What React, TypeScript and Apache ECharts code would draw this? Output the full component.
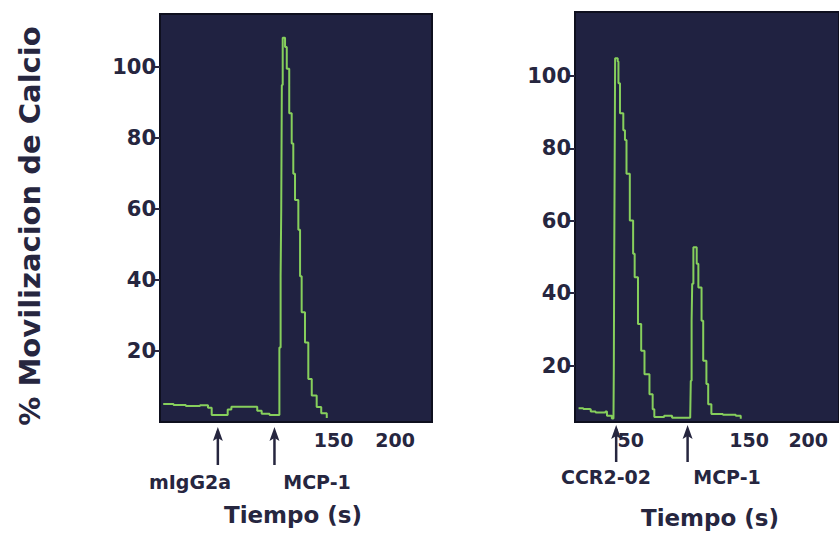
import React, { useEffect, useRef } from "react";
import * as echarts from "echarts";

// Left panel: mIgG2a then MCP-1 (time s, % calcium mobilisation)
const leftTime = [11.6, 20, 30, 41.5, 48, 51, 55, 60.4, 64, 67, 75, 84.8, 88, 91.6, 98, 105, 106, 107, 107.5, 108, 108.7, 110.6, 112, 114, 116, 117.3, 118.7, 121.4, 122.8, 124.1, 126.8, 129.5, 132.3, 136.3, 140, 144.5];
const leftValue = [5.1, 4.8, 4.5, 4.7, 4.0, 2.0, 2.0, 2.0, 3.5, 4.3, 4.3, 4.3, 3.2, 2.3, 2.0, 2.0, 21, 41, 60, 95, 108.3, 105.7, 99.6, 87, 78.5, 70, 62.6, 54.2, 41.1, 30.9, 22.4, 12.1, 7.5, 4.2, 2.5, 1.1];

// Right panel: CCR2-02 then MCP-1
const rightTime = [6, 10, 14.9, 16.3, 20.4, 28.7, 30, 34.1, 35.5, 35.8, 36.1, 36.5, 36.9, 39.1, 39.7, 41, 43.8, 45.2, 46.5, 49.3, 52.1, 53.4, 56.2, 58.9, 61.7, 65.9, 68.6, 70, 78.3, 85, 98.9, 100.3, 100.8, 101.5, 102, 103, 104.4, 105.8, 107.2, 109.9, 111.3, 114, 115.5, 118.2, 127.9, 138.8, 143];
const rightValue = [8.2, 8.0, 7.9, 7.3, 7.0, 7.3, 6.1, 5.4, 5.4, 19.5, 48, 75, 104.9, 104, 98, 89.7, 85, 82.3, 73, 60.1, 50.9, 44.4, 31.5, 24.1, 17.6, 12.1, 7.9, 5.8, 6.1, 5.6, 5.6, 5.6, 15.8, 32.4, 42.6, 52.7, 52.7, 48.1, 41.6, 32.4, 21.3, 14.9, 9.3, 6.6, 6.4, 6.1, 5.3];

const yTicks = [20, 40, 60, 80, 100];
const leftXTicks = [150, 200];
const rightXTicks = [50, 150, 200];

const yTitle = "% Movilizacion de Calcio";
const xTitle = "Tiempo (s)";
const leftMarkers = [
  { t: 56, label: "mIgG2a" },
  { t: 102, label: "MCP-1" },
];
const rightMarkers = [
  { t: 37, label: "CCR2-02" },
  { t: 96, label: "MCP-1" },
];

const FONT = "DejaVu Sans";
const INK = "#26263f";
const PANEL = "#202241";
const TRACE = "#86cf5c";

export default function App() {
  const ref = useRef<HTMLDivElement>(null);
  useEffect(() => {
    document.body.style.margin = "0";
    if (!ref.current) return;
    const chart = echarts.init(ref.current, null, { renderer: "svg" });

    const L = { left: 160, top: 14, width: 272, height: 408, xmin: 9, xmax: 230, ymin: 0, ymax: 115 };
    const R = { left: 575, top: 12, width: 270, height: 410, xmin: 3, xmax: 226, ymin: 4.4, ymax: 117.7 };

    const xAxisCommon = (p: any, ticks: number[], gi: number) => ({
      type: "value",
      gridIndex: gi,
      min: p.xmin,
      max: p.xmax,
      splitLine: { show: false },
      axisLine: { show: false },
      axisTick: { show: false },
      axisLabel: {
        customValues: ticks,
        color: INK,
        fontFamily: FONT,
        fontWeight: "bold",
        fontSize: 19,
        margin: 8,
      },
    });
    const yAxisCommon = (p: any, gi: number) => ({
      type: "value",
      gridIndex: gi,
      min: p.ymin,
      max: p.ymax,
      splitLine: { show: false },
      axisLine: { show: false },
      axisTick: { show: true, customValues: yTicks, length: 6, inside: false, lineStyle: { color: INK, width: 2 } },
      axisLabel: {
        customValues: yTicks,
        color: INK,
        fontFamily: FONT,
        fontWeight: "bold",
        fontSize: 21,
        margin: 4,
      },
    });

    const xPix = (p: any, t: number) => p.left + ((t - p.xmin) / (p.xmax - p.xmin)) * p.width;

    const arrow = (x: number, y1: number, y2: number) => [
      { type: "line", shape: { x1: x, y1: y2, x2: x, y2: y1 + 4 }, style: { stroke: INK, lineWidth: 2.5 } },
      { type: "polygon", shape: { points: [[x, y1], [x - 5, y1 + 14], [x, y1 + 11], [x + 5, y1 + 14]] }, style: { fill: INK } },
    ];

    const graphics: any[] = [
      {
        type: "text",
        x: 30,
        y: 226,
        rotation: Math.PI / 2,
        style: { text: yTitle, fill: INK, font: `bold 29px "${FONT}"`, align: "center", verticalAlign: "middle" },
      },
      {
        type: "text",
        x: 293,
        y: 515,
        style: { text: xTitle, fill: INK, font: `bold 23px "${FONT}"`, align: "center", verticalAlign: "middle" },
      },
      {
        type: "text",
        x: 710,
        y: 518,
        style: { text: xTitle, fill: INK, font: `bold 23px "${FONT}"`, align: "center", verticalAlign: "middle" },
      },
    ];
    const leftLabelX = [190, 317];
    leftMarkers.forEach((m, i) => {
      const x = xPix(L, m.t);
      graphics.push(...arrow(x, 427, 465));
      graphics.push({
        type: "text",
        x: leftLabelX[i],
        y: 482,
        style: { text: m.label, fill: INK, font: `bold 19px "${FONT}"`, align: "center", verticalAlign: "middle" },
      });
    });
    const rightLabelX = [606, 727];
    rightMarkers.forEach((m, i) => {
      const x = xPix(R, m.t);
      graphics.push(...arrow(x, 425, 462));
      graphics.push({
        type: "text",
        x: rightLabelX[i],
        y: 477,
        style: { text: m.label, fill: INK, font: `bold 19px "${FONT}"`, align: "center", verticalAlign: "middle" },
      });
    });

    chart.setOption({
      animation: false,
      backgroundColor: "#ffffff",
      grid: [
        { left: L.left, top: L.top, width: L.width, height: L.height, show: true, backgroundColor: PANEL, borderColor: "#0e0f1e", borderWidth: 2 },
        { left: R.left, top: R.top, width: R.width, height: R.height, show: true, backgroundColor: PANEL, borderColor: "#0e0f1e", borderWidth: 2 },
      ],
      xAxis: [xAxisCommon(L, leftXTicks, 0), xAxisCommon(R, rightXTicks, 1)],
      yAxis: [yAxisCommon(L, 0), yAxisCommon(R, 1)],
      series: [
        {
          type: "line",
          xAxisIndex: 0,
          yAxisIndex: 0,
          data: leftTime.map((t, i) => [t, leftValue[i]]),
          showSymbol: false,
          lineStyle: { color: TRACE, width: 2 },
          step: "end",
        },
        {
          type: "line",
          xAxisIndex: 1,
          yAxisIndex: 1,
          data: rightTime.map((t, i) => [t, rightValue[i]]),
          showSymbol: false,
          lineStyle: { color: TRACE, width: 2 },
          step: "end",
        },
      ],
      graphic: graphics,
    });
    return () => chart.dispose();
  }, []);
  return <div ref={ref} style={{ width: 839, height: 533 }} />;
}
